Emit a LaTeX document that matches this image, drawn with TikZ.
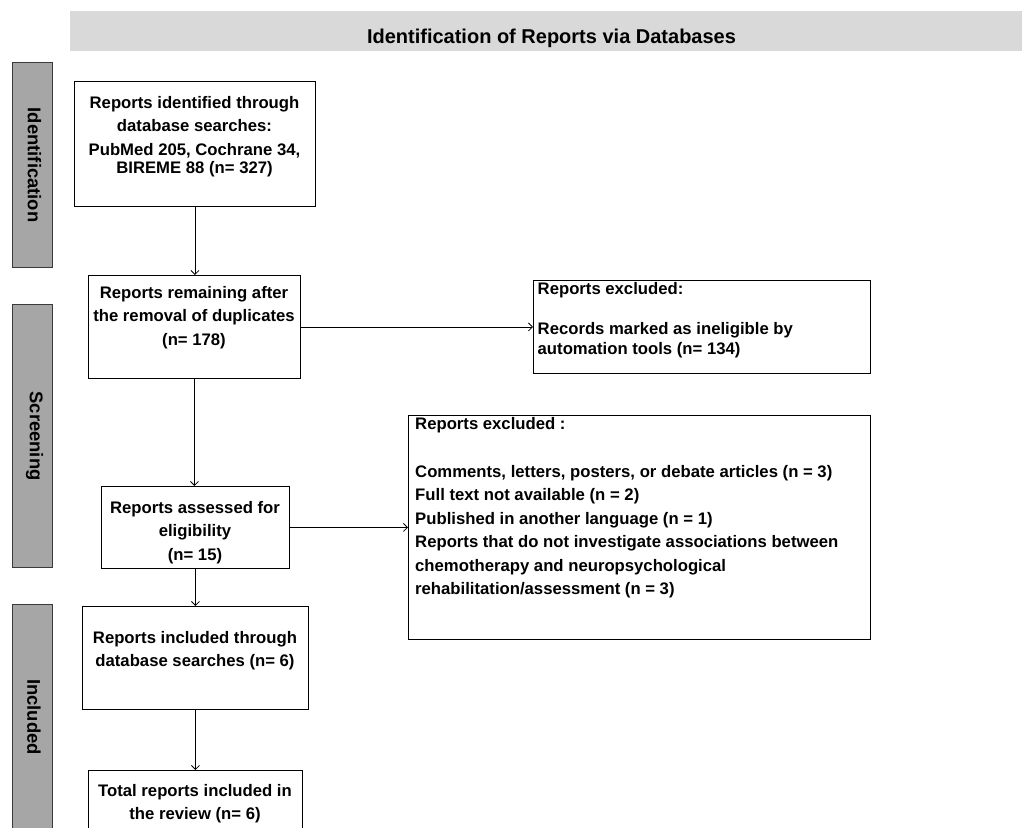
\documentclass[tikz,border=0pt]{standalone}
\usepackage{fontspec}
\setmainfont{Liberation Sans}
\usetikzlibrary{arrows.meta}
\definecolor{hdrgray}{HTML}{D9D9D9}
\definecolor{sidefill}{HTML}{A6A6A6}
\definecolor{sideline}{HTML}{3A3A3A}
\begin{document}
\begin{tikzpicture}[x=1pt,y=-1pt,
  font=\bfseries\fontsize{16.7}{23.5}\selectfont,
  box/.style={draw=black, line width=0.9pt, fill=white, inner sep=0pt, anchor=north west},
  sidebar/.style={draw=sideline, fill=sidefill, line width=1.1pt, inner sep=0pt, anchor=north west, minimum width=40pt},
  sidetext/.style={rotate=-90, inner sep=0pt, font=\bfseries\fontsize{18.4}{22}\selectfont},
  ctxt/.style={inner sep=0pt, align=center, anchor=north},
  ltxt/.style={inner sep=0pt, align=left, anchor=north west},
  arr/.style={-{Straight Barb[length=4pt,width=8pt]}, line width=0.8pt}]
\useasboundingbox (0,0) rectangle (1022,827);
\clip (0,0) rectangle (1022,827);

% header
\node[fill=hdrgray, inner sep=0pt, anchor=north west, minimum width=952pt, minimum height=40pt] (hdr) at (70,11) {};
\node[anchor=base, inner sep=0pt, font=\bfseries\fontsize{20}{24}\selectfont] (title) at (551.5,43) {Identification of Reports via Databases};

% side bars
\node[sidebar, minimum height=205pt] (s1) at (12,62) {};
\node[sidetext] (s1t) at ([xshift=2pt]s1.center) {Identification};
\node[sidebar, minimum height=263pt] (s2) at (12,304) {};
\node[sidetext] (s2t) at ([xshift=2pt]s2.center) {Screening};
\node[sidebar, minimum height=250pt] (s3) at (12,604) {};
\node[sidetext] (s3t) at (34,717) {Included};

% main boxes
\node[box, minimum width=241pt, minimum height=125pt] (b1) at (74,81) {};
\node[ctxt] (b1t) at (194.5,96) {Reports identified through\\ database searches:\\ PubMed 205, Cochrane 34,\\[-5.5pt] BIREME 88 (n= 327)};

\node[box, minimum width=212pt, minimum height=103pt] (b2) at (88,275) {};
\node[ctxt] (b2t) at (194,286) {Reports remaining after\\ the removal of duplicates\\ (n= 178)};

\node[box, minimum width=188pt, minimum height=82pt] (b3) at (101,486) {};
\node[ctxt] (b3t) at (195,501) {Reports assessed for\\ eligibility\\ (n= 15)};

\node[box, minimum width=226pt, minimum height=103pt] (b4) at (82,606) {};
\node[ctxt] (b4t) at (195,631) {Reports included through\\ database searches (n= 6)};

\node[box, minimum width=214pt, minimum height=90pt] (b5) at (88,770) {};
\node[ctxt] (b5t) at (195,784) {Total reports included in\\ the review (n= 6)};

% exclusion boxes
\node[box, minimum width=337pt, minimum height=93pt] (e1) at (533,280) {};
\node[ltxt] (e1t) at (537.5,282) {Reports excluded:\\[16.5pt] Records marked as ineligible by\\[-3.5pt] automation tools (n= 134)};

\node[box, minimum width=462pt, minimum height=224pt] (e2) at (408,415) {};
\node[ltxt] (e2t) at (415,417) {Reports excluded :\\[24.5pt] Comments, letters, posters, or debate articles (n = 3)\\ Full text not available (n = 2)\\ Published in another language (n = 1)\\ Reports that do not investigate associations between\\ chemotherapy and neuropsychological\\ rehabilitation/assessment (n = 3)};

% connectors
\draw[arr] (b1.south) -- (b1.south |- b2.north);
\draw[arr] (b2.south) -- (b2.south |- b3.north);
\draw[arr] (b3.south) -- (b3.south |- b4.north);
\draw[arr] (b4.south) -- (b4.south |- b5.north);
\draw[arr] (b2.east) -- (b2.east -| e1.west);
\draw[arr] (b3.east) -- (b3.east -| e2.west);
\end{tikzpicture}
\end{document}
